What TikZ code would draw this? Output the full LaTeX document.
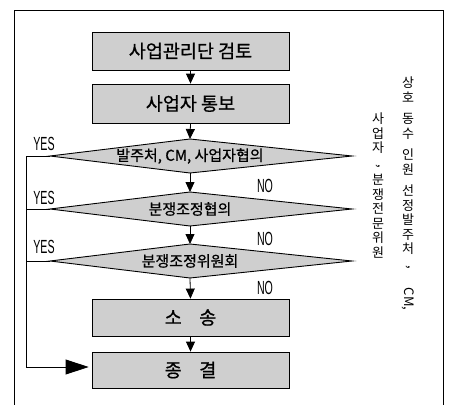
\documentclass[tikz,border=0pt]{standalone}
\usepackage{fontspec}
\setmainfont{Noto Sans CJK KR}
\newfontfamily\kmed[FakeBold=0.8]{Noto Sans CJK KR}
\newfontfamily\latinf{Liberation Sans}
\usetikzlibrary{arrows.meta}
\tikzset{
  frame/.style={line width=0.9pt},
  procbox/.style={draw, line width=0.8pt, fill=gray!38, minimum width=197pt, inner sep=0pt, font=\kmed\fontsize{18.5}{20}\selectfont},
  dshape/.style={draw, line width=0.9pt, fill=gray!38},
  dtext/.style={inner sep=0pt, font=\kmed\fontsize{15}{16}\selectfont},
  flow/.style={line width=0.8pt, -{Triangle[length=10pt,width=9pt]}},
  yesline/.style={line width=0.8pt},
  lab/.style={inner sep=0pt, font=\latinf\fontsize{19}{20}\selectfont},
  vtext/.style={inner sep=0pt, align=center, font=\fontsize{13}{14.5}\selectfont},
}
\newcommand{\diam}[3]{%
  \coordinate (#1-l) at (50,#2);
  \coordinate (#1-t) at (190,#2-17);
  \coordinate (#1-r) at (352,#2);
  \coordinate (#1-b) at (190,#2+17);
  \filldraw[dshape] (#1-l) -- (#1-t) -- (#1-r) -- (#1-b) -- cycle;
  \node[dtext] (#1) at (190,#2) {#3};
}
\newcommand{\cond}[1]{\scalebox{0.56}[1]{#1}}
\begin{document}
\begin{tikzpicture}[x=1pt,y=-1pt]
\useasboundingbox (0,0) rectangle (451,405);
\draw[frame] (14,406) -- (14,10) -- (443,10) -- (443,406);

\node[procbox, minimum height=38pt] (b1) at (190.5,51) {사업관리단 검토};
\node[procbox, minimum height=39pt] (b2) at (190.5,103.5) {사업자 통보};
\diam{d1}{156}{발주처, CM, 사업자협의}
\diam{d2}{209}{분쟁조정협의}
\diam{d3}{261}{분쟁조정위원회}
\node[procbox, minimum height=37pt] (b3) at (190.5,317.5) {소\hspace{0.95em}송};
\node[procbox, minimum height=36pt] (b4) at (190.5,370) {종\hspace{0.95em}결};

\draw[flow] (b1.south) -- (b2.north);
\draw[flow] (b2.south) -- (d1-t);
\draw[flow] (d1-b) -- (d2-t);
\draw[flow] (d2-b) -- (d3-t);
\draw[flow] (d3-b) -- (b3.north);
\draw[flow] (b3.south) -- (b4.north);

\coordinate (j2) at (26,209);
\coordinate (j3) at (26,261);
\draw[yesline, -{Triangle[length=23pt,width=15pt]}, shorten >=3pt]
  (d1-l) -- (26,156) |- ([yshift=3pt]b4.west);
\draw[yesline] (d2-l) -- (j2);
\draw[yesline] (d3-l) -- (j3);

\node[lab] (y1) at (44,144) {\cond{YES}};
\node[lab] (y2) at (44,198) {\cond{YES}};
\node[lab] (y3) at (44,247) {\cond{YES}};
\node[lab] (n1) at (265,186) {\cond{NO}};
\node[lab] (n2) at (265,239) {\cond{NO}};
\node[lab] (n3) at (265,288) {\cond{NO}};

\node[vtext, anchor=north] (v1) at (408,77)
  {상\\호\\[7pt]동\\수\\[7pt]인\\원\\[7pt]선\\정\\발\\주\\처\\[-3pt]\rotatebox{-90}{,}\\[8pt]\rotatebox{-90}{CM,}};
\node[vtext, anchor=north] (v2) at (378,113)
  {사\\업\\자\\[-3pt]\rotatebox{-90}{,}\\[6pt]분\\쟁\\전\\문\\위\\원};
\end{tikzpicture}
\end{document}
